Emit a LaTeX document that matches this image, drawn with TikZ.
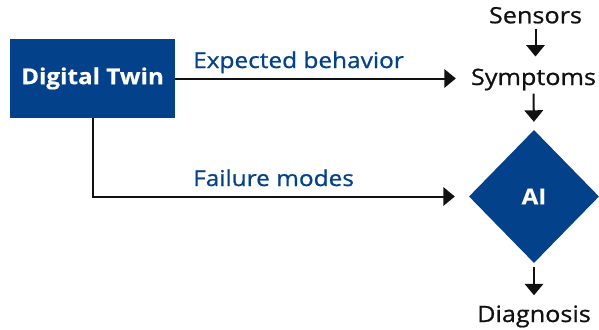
\documentclass[tikz,border=0pt]{standalone}
\usepackage{fontspec}
\setmainfont{Open Sans}
\newfontfamily\widefont[FakeStretch=1.12,FakeBold=0.8]{Open Sans}
\newfontfamily\widebold[FakeStretch=1.1,FakeBold=0.4]{Open Sans Bold}
\usetikzlibrary{arrows.meta,shapes.geometric}
\definecolor{twinblue}{RGB}{3,66,138}
\definecolor{ink}{RGB}{17,17,17}
\tikzset{
  conn/.style={draw=ink,line width=2pt,-{Triangle[length=11.5pt,width=18.5pt]}},
  bluebox/.style={fill=twinblue,text=white,inner sep=0pt,minimum width=165pt,minimum height=79pt,font=\widebold\fontsize{22}{26}\selectfont},
  aidiamond/.style={diamond,fill=twinblue,text=white,inner sep=0pt,minimum width=130pt,minimum height=133pt,font=\widebold\fontsize{22}{26}\selectfont},
  word/.style={text=ink,inner sep=0pt,font=\widefont\fontsize{22.5}{26}\selectfont},
  lbl/.style={text=twinblue,inner sep=0pt,font=\widefont\fontsize{21.8}{26}\selectfont}
}
\begin{document}
\begin{tikzpicture}[x=1pt,y=-1pt]
\useasboundingbox (0,0) rectangle (599,329);
\node[bluebox] (dt) at (92.5,78.5) {Digital Twin};
\node[word,anchor=base] (sensors) at (535.5,23.3) {Sensors};
\node[word,anchor=base] (symptoms) at (533.5,85) {Symptoms};
\node[aidiamond] (ai) at (534,196.5) {AI};
\node[word,anchor=base] (diagnosis) at (534,322) {Diagnosis};
\node[lbl,anchor=base west] (lexp) at (193,68) {Expected behavior};
\node[lbl,anchor=base west] (lfail) at (193,186) {Failure modes};
\draw[conn,shorten >=15pt] (dt.east) -- (symptoms.west |- dt.east);
\draw[conn,shorten >=14pt] (dt.south) |- (ai.west);
\draw[conn,shorten <=5pt,shorten >=12pt] (sensors.south) -- (sensors.south |- symptoms.north);
\draw[conn,shorten <=3pt,shorten >=8pt] (symptoms.south) -- (ai.north);
\draw[conn,shorten <=4pt,shorten >=10pt] (ai.south) -- (ai.south |- diagnosis.north);
\end{tikzpicture}
\end{document}
